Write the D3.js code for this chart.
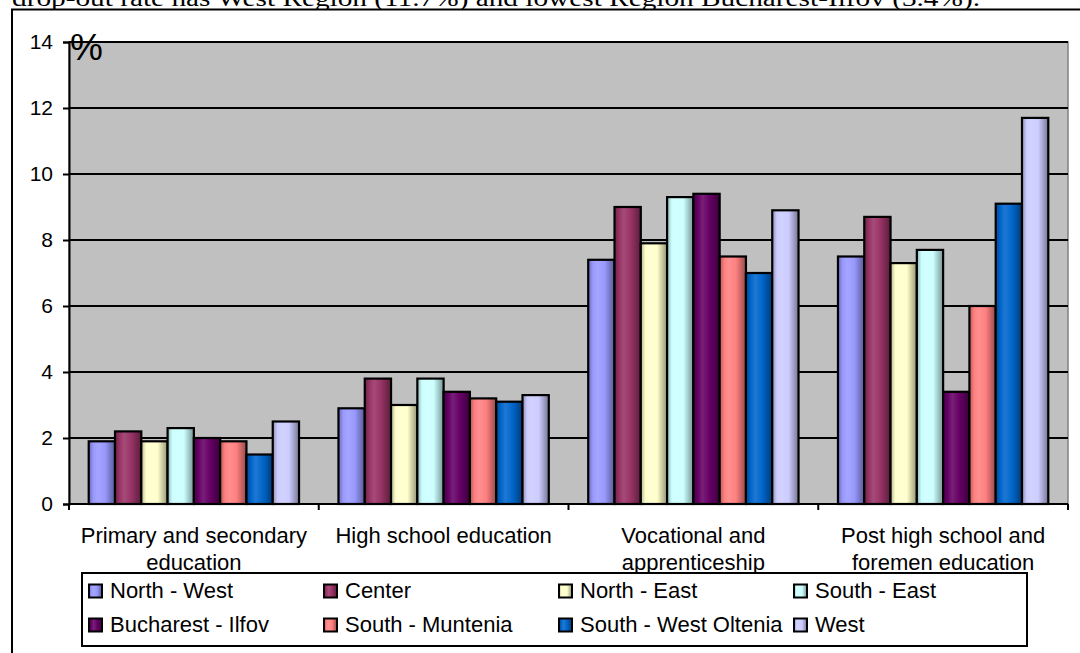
<!DOCTYPE html>
<html>
<head>
<meta charset="utf-8">
<script src="https://cdn.jsdelivr.net/npm/d3@7"></script>
<style>
  html, body { margin: 0; padding: 0; background: #fff; overflow: hidden; }
  svg { display: block; }
</style>
</head>
<body>
<svg id="chart" width="1080" height="653"></svg>
<script>
// Drop-out rate by education level and development region (%)
const categories = [
  ["Primary and secondary", "education"],
  ["High school education"],
  ["Vocational and", "apprenticeship"],
  ["Post high school and", "foremen education"]
];
const regions = [
  "North - West", "Center", "North - East", "South - East",
  "Bucharest - Ilfov", "South - Muntenia", "South - West Oltenia", "West"
];
const regionColors = [
  "#9999FF", "#993366", "#FFFFCC", "#CCFFFF",
  "#660066", "#FF8080", "#0066CC", "#CCCCFF"
];
// one array per region, values in category order
const northWest      = [1.9, 2.9, 7.4, 7.5];
const center         = [2.2, 3.8, 9.0, 8.7];
const northEast      = [1.9, 3.0, 7.9, 7.3];
const southEast      = [2.3, 3.8, 9.3, 7.7];
const bucharestIlfov = [2.0, 3.4, 9.4, 3.4];
const southMuntenia  = [1.9, 3.2, 7.5, 6.0];
const southWestOlt   = [1.5, 3.1, 7.0, 9.1];
const west           = [2.5, 3.3, 8.9, 11.7];
const seriesValues = [northWest, center, northEast, southEast,
                      bucharestIlfov, southMuntenia, southWestOlt, west];
const yTicks = [0, 2, 4, 6, 8, 10, 12, 14];
const headline = "drop-out rate has West Region (11.7%) and lowest Region Bucharest-Ilfov (3.4%).";

const svg = d3.select("#chart");
const plot = { left: 69, right: 1068, top: 42, bottom: 504 };

// text line above the chart frame (continues from the preceding paragraph)
svg.append("text")
  .attr("x", 12).attr("y", 6)
  .attr("font-family", "'Liberation Serif', 'Times New Roman', serif")
  .attr("font-size", 24)
  .attr("textLength", 968).attr("lengthAdjust", "spacingAndGlyphs")
  .attr("fill", "#000")
  .text(headline);

// chart frame
svg.append("rect")
  .attr("x", 12).attr("y", 9.5).attr("width", 1200).attr("height", 800)
  .attr("fill", "#fff").attr("stroke", "#000").attr("stroke-width", 2);

const catKeys = categories.map((d, i) => i);
const x0 = d3.scaleBand().domain(catKeys).range([plot.left, plot.right]).padding(0);
const x1 = d3.scaleBand().domain(d3.range(regions.length))
  .range([0, x0.bandwidth()]).paddingInner(0).paddingOuter(0.75);
const y = d3.scaleLinear().domain([0, 14]).range([plot.bottom, plot.top]);

// plot background
svg.append("rect")
  .attr("x", plot.left).attr("y", plot.top)
  .attr("width", plot.right - plot.left).attr("height", plot.bottom - plot.top)
  .attr("fill", "#C0C0C0").attr("stroke", "#808080").attr("stroke-width", 1.5);

// gridlines
svg.append("g").selectAll("line")
  .data(yTicks.filter(t => t > 0))
  .join("line")
  .attr("x1", plot.left).attr("x2", plot.right)
  .attr("y1", d => y(d)).attr("y2", d => y(d))
  .attr("stroke", "#000").attr("stroke-width", 2);

// shaded gradients for bars and legend swatches
const defs = svg.append("defs");
regionColors.forEach((c, i) => {
  const g = defs.append("linearGradient")
    .attr("id", "grad" + i).attr("x1", "0%").attr("x2", "100%").attr("y1", "0%").attr("y2", "0%");
  const dark = f => d3.interpolateRgb(c, "#000")(f);
  const light = f => d3.interpolateRgb(c, "#fff")(f);
  g.append("stop").attr("offset", "0%").attr("stop-color", dark(0.3));
  g.append("stop").attr("offset", "18%").attr("stop-color", c);
  g.append("stop").attr("offset", "35%").attr("stop-color", light(0.12));
  g.append("stop").attr("offset", "62%").attr("stop-color", c);
  g.append("stop").attr("offset", "100%").attr("stop-color", dark(0.42));
});

// bars
const groups = svg.append("g").selectAll("g")
  .data(catKeys)
  .join("g")
  .attr("transform", d => `translate(${x0(d)},0)`);

groups.selectAll("rect")
  .data(ci => seriesValues.map((vals, si) => ({ si, v: vals[ci] })))
  .join("rect")
  .attr("x", d => x1(d.si))
  .attr("y", d => y(d.v))
  .attr("width", x1.bandwidth())
  .attr("height", d => y(0) - y(d.v))
  .attr("fill", d => `url(#grad${d.si})`)
  .attr("stroke", "#000").attr("stroke-width", 2.2);

// y axis
const yAxis = d3.axisLeft(y).tickValues(yTicks).tickSize(6).tickPadding(10).tickFormat(d3.format("d"));
const ya = svg.append("g").attr("transform", `translate(${plot.left},0)`).call(yAxis);
ya.select(".domain").attr("stroke", "#000").attr("stroke-width", 2);
ya.selectAll(".tick line").attr("stroke", "#000").attr("stroke-width", 2);
ya.selectAll(".tick text")
  .attr("font-family", "'Liberation Sans', Arial, sans-serif")
  .attr("font-size", 21).attr("fill", "#000");

// x axis baseline and category separators
const xa = svg.append("g");
xa.append("line")
  .attr("x1", plot.left).attr("x2", plot.right)
  .attr("y1", plot.bottom).attr("y2", plot.bottom)
  .attr("stroke", "#000").attr("stroke-width", 2);
const sepX = catKeys.map(d => x0(d)).concat([x0(catKeys[catKeys.length - 1]) + x0.bandwidth()]);
xa.selectAll("line.sep").data(sepX).join("line").attr("class", "sep")
  .attr("x1", d => d).attr("x2", d => d)
  .attr("y1", plot.bottom).attr("y2", plot.bottom + 6)
  .attr("stroke", "#000").attr("stroke-width", 2);

// category labels
const catLabels = svg.append("g")
  .attr("font-family", "'Liberation Sans', Arial, sans-serif")
  .attr("font-size", 22).attr("fill", "#000").attr("text-anchor", "middle");
catKeys.forEach(ci => {
  const t = catLabels.append("text").attr("x", x0(ci) + x0.bandwidth() / 2).attr("y", 543);
  categories[ci].forEach((line, li) => {
    t.append("tspan").attr("x", x0(ci) + x0.bandwidth() / 2).attr("dy", li === 0 ? 0 : 27).text(line);
  });
});

// unit label
svg.append("text")
  .attr("x", 70).attr("y", 60)
  .attr("font-family", "'Liberation Sans', Arial, sans-serif")
  .attr("font-size", 37).attr("fill", "#000")
  .text("%");

// legend
const legend = svg.append("g");
legend.append("rect")
  .attr("x", 82).attr("y", 573).attr("width", 945).attr("height", 73)
  .attr("fill", "#fff").attr("stroke", "#000").attr("stroke-width", 2);
const items = legend.selectAll("g.item")
  .data(regions.map((r, i) => ({ r, i })))
  .join("g").attr("class", "item")
  .attr("transform", d => `translate(${89 + (d.i % 4) * 235},${591 + Math.floor(d.i / 4) * 34})`);
items.append("rect")
  .attr("x", 0).attr("y", -6.5).attr("width", 13).attr("height", 13)
  .attr("fill", d => `url(#grad${d.i})`).attr("stroke", "#000").attr("stroke-width", 2);
items.append("text")
  .attr("x", 21).attr("y", 7)
  .attr("font-family", "'Liberation Sans', Arial, sans-serif")
  .attr("font-size", 22).attr("fill", "#000")
  .text(d => d.r);
</script>
</body>
</html>
